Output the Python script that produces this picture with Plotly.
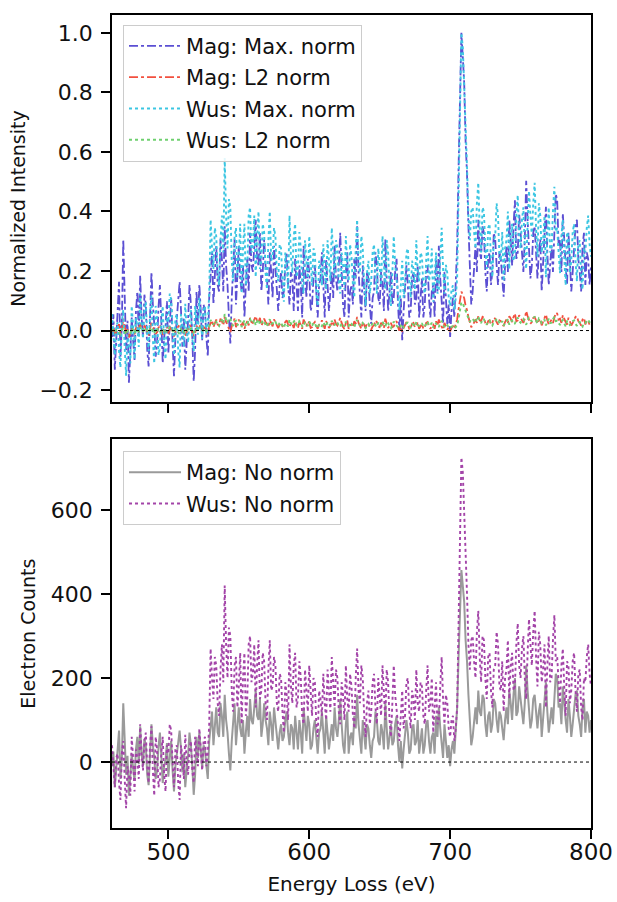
import numpy as np
import plotly.graph_objects as go
from plotly.subplots import make_subplots

# Energy-loss axis (eV), 1 eV bins
energy_ev = np.arange(460, 801, 1)

# Background-subtracted electron counts, one row per 20 eV (460-479, 480-499, ...)
mag_counts = [
    -10, 25, -60, -20, 30, 75, -40, 10, 140, 60, -30, 15, -80, -35, 20, -15, -45, 30, 60, -5,
    85, 20, -10, 55, 40, -30, -55, 20, 90, 40, 10, -40, -20, 35, 70, 15, -50, -10, 5, 45,
    -35, 10, 50, -20, -70, -10, 20, 60, 75, 30, -25, 20, -60, -20, 15, 70, 40, -10, -78, -30,
    60, 10, 71, 30, -15, 40, 30, -10, -40, 50, 90, 120, 40, 80, 130, 70, 60, 140, 110, 60,
    160, 100, 70, 20, -20, 50, 100, 140, 40, 90, 130, 80, 60, 100, 20, 70, 110, 60, 150, 100,
    90, 130, 170, 110, 100, 150, 60, 90, 140, 100, 80, 40, 120, 90, 50, 130, 100, 60, 30, 70,
    90, 50, 60, 100, 120, 70, 40, 90, 80, 30, 110, 70, 30, 100, 70, 20, 130, 90, 50, 110,
    90, 30, 40, 80, 100, 60, 20, 70, 80, 120, 60, 20, 110, 70, 30, 60, 90, 50, 130, 80,
    60, 100, 150, 90, 40, 20, 90, 120, 20, 60, 70, 40, 110, 80, 160, 90, 50, 20, 100, 60,
    30, 90, 80, 40, 10, 50, 60, 120, 100, 50, 40, 90, 70, 30, 140, 80, 30, 60, 90, 40,
    50, 90, 110, 40, 0, 50, -15, 30, 60, 100, 70, 20, 30, 80, 90, 40, 50, 100, 20, 60,
    80, 20, 40, 90, 100, 50, 20, 60, 70, 20, 110, 60, 130, 80, 40, 10, 90, 50, 10, 40,
    -10, 30, 50, 20, 80, 130, 250, 380, 457, 420, 380, 290, 240, 160, 90, 40, 60, 100, 130, 90,
    170, 120, 110, 160, 150, 90, 60, 110, 120, 70, 90, 150, 140, 100, 70, 120, 110, 80, 52, 100,
    130, 90, 170, 140, 100, 160, 200, 110, 120, 180, 150, 110, 90, 140, 230, 170, 130, 80, 100, 150,
    160, 110, 80, 120, 140, 60, 110, 150, 190, 120, 70, 100, 130, 90, 160, 210, 200, 130, 140, 90,
    180, 130, 100, 70, 150, 110, 60, 90, 120, 160, 170, 110, 90, 60, 130, 150, 70, 120, 110, 70,
    100,
]

wus_counts = [
    40, -20, -60, 10, 20, -50, -90, 20, 50, -40, -110, -10, -30, -80, 60, 10, -70, 30, 10, -40,
    90, 20, -20, 50, 70, -10, -50, 40, 85, -20, -80, 60, 30, -60, -40, 20, 60, -30, -70, 40,
    20, 90, 75, 0, -60, 30, 40, -50, -90, 40, 10, -40, 65, 0, -30, 30, 50, -20, -50, 60,
    30, -10, 80, 20, -20, 50, 60, -10, 20, 90, 270, 200, 150, 250, 230, 140, 110, 220, 280, 190,
    420, 280, 200, 320, 300, 170, 120, 230, 250, 130, 180, 260, 90, 200, 260, 110, 150, 280, 300, 190,
    210, 280, 130, 230, 290, 150, 170, 260, 240, 140, 100, 220, 290, 170, 180, 250, 230, 140, 120, 210,
    200, 120, 70, 190, 160, 100, 280, 180, 140, 230, 260, 130, 150, 240, 200, 110, 90, 220, 170, 120,
    230, 150, 110, 200, 190, 90, 60, 170, 150, 110, 210, 140, 100, 220, 180, 120, 250, 170, 130, 220,
    200, 120, 90, 190, 160, 100, 230, 150, 120, 210, 180, 110, 80, 200, 270, 170, 140, 230, 200, 110,
    60, 140, 170, 90, 120, 190, 210, 130, 90, 200, 160, 110, 230, 160, 100, 220, 190, 100, 60, 140,
    230, 160, 130, 90, 50, 120, 170, 80, 110, 190, 200, 120, 80, 170, 150, 100, 220, 140, 120, 190,
    180, 110, 90, 170, 230, 120, 140, 200, 70, 130, 190, 90, 100, 180, 250, 150, 90, 160, 140, 80,
    60, 100, 110, 50, 80, 130, 300, 560, 725, 690, 600, 500, 400, 280, 220, 290, 300, 240, 200, 310,
    360, 250, 190, 300, 290, 200, 150, 250, 260, 170, 130, 220, 230, 310, 280, 180, 170, 240, 120, 200,
    220, 290, 150, 230, 260, 170, 180, 280, 330, 230, 200, 270, 300, 200, 150, 260, 340, 280, 230, 310,
    360, 250, 180, 310, 280, 190, 220, 280, 130, 230, 300, 190, 200, 290, 350, 240, 250, 190, 140, 230,
    270, 180, 110, 240, 230, 140, 170, 240, 260, 170, 120, 210, 220, 130, 100, 200, 190, 250, 280, 210,
    180,
]

assert len(mag_counts) == len(energy_ev) == len(wus_counts)

# L2 norms of the full-resolution spectra (counts)
mag_l2_norm = 3500.0
wus_l2_norm = 7600.0

mag = np.array(mag_counts, dtype=float)
wus = np.array(wus_counts, dtype=float)

mag_max_norm = mag / mag.max()
mag_l2 = mag / mag_l2_norm
wus_max_norm = wus / wus.max()
wus_l2 = wus / wus_l2_norm

FONT = "DejaVu Sans"

fig = make_subplots(rows=2, cols=1)

top_series = [
    ("Mag: Max. norm", mag_max_norm, "#5b4fd3", "dashdot", 1.8),
    ("Mag: L2 norm", mag_l2, "#f2503f", "dashdot", 1.8),
    ("Wus: Max. norm", wus_max_norm, "#3cc6e2", "dot", 1.9),
    ("Wus: L2 norm", wus_l2, "#6fd06f", "dot", 1.9),
]
for name, y, color, dash, w in top_series:
    fig.add_trace(
        go.Scatter(x=energy_ev, y=y, mode="lines", name=name, legendgroup=name,
                   line=dict(color=color, dash=dash, width=w),
                   legend="legend"),
        row=1, col=1,
    )

bottom_series = [
    ("Mag: No norm", mag, "#9a9a9a", "solid", 2.0),
    ("Wus: No norm", wus, "#a344a8", "dot", 1.9),
]
for name, y, color, dash, w in bottom_series:
    fig.add_trace(
        go.Scatter(x=energy_ev, y=y, mode="lines", name=name, legendgroup=name,
                   line=dict(color=color, dash=dash, width=w),
                   legend="legend2"),
        row=2, col=1,
    )

# Zero reference lines
for r in (1, 2):
    fig.add_hline(y=0, line=dict(color="black", dash="dot", width=1), row=r, col=1)

axis_common = dict(
    showline=True, linecolor="black", linewidth=1.5, mirror=True,
    ticks="outside", ticklen=9, tickwidth=1.5, tickcolor="black",
    showgrid=False, zeroline=False, automargin=False,
)
xtick_font = dict(family=FONT, size=23, color="#111")
ytick_font = dict(family=FONT, size=22, color="#111")

legend_common = dict(
    xanchor="left", yanchor="top",
    bgcolor="rgba(255,255,255,0.85)", bordercolor="#cccccc", borderwidth=1,
    font=dict(family=FONT, size=21), itemwidth=52, tracegroupgap=1,
)

fig.update_layout(
    width=617, height=902,
    margin=dict(l=112, r=26, t=15, b=74),
    paper_bgcolor="white", plot_bgcolor="white",
    font=dict(family=FONT, color="#111"),
    xaxis=dict(axis_common, domain=[0, 1], range=[460, 800],
               tickvals=[500, 600, 700, 800], showticklabels=False),
    xaxis2=dict(axis_common, domain=[0, 1], range=[460, 800],
                tickvals=[500, 600, 700, 800], tickfont=xtick_font,
                ticklabelstandoff=-6,
                title=dict(text="Energy Loss (eV)", font=dict(family=FONT, size=20),
                           standoff=13)),
    yaxis=dict(axis_common, domain=[0.524, 1.0], range=[-0.24, 1.06],
               tickvals=[-0.2, 0.0, 0.2, 0.4, 0.6, 0.8, 1.0], tickformat=".1f",
               tickfont=ytick_font, ticklabelstandoff=4,
               title=dict(text="Normalized Intensity", font=dict(family=FONT, size=19),
                          standoff=9)),
    yaxis2=dict(axis_common, domain=[0.0, 0.478], range=[-157, 768],
                tickvals=[0, 200, 400, 600], tickfont=ytick_font, ticklabelstandoff=4,
                title=dict(text="Electron Counts", font=dict(family=FONT, size=19),
                           standoff=10)),
    legend=dict(legend_common, x=0.023, y=0.988),
    legend2=dict(legend_common, x=0.023, y=0.4637),
    showlegend=True,
)

fig.write_html("out.html")
